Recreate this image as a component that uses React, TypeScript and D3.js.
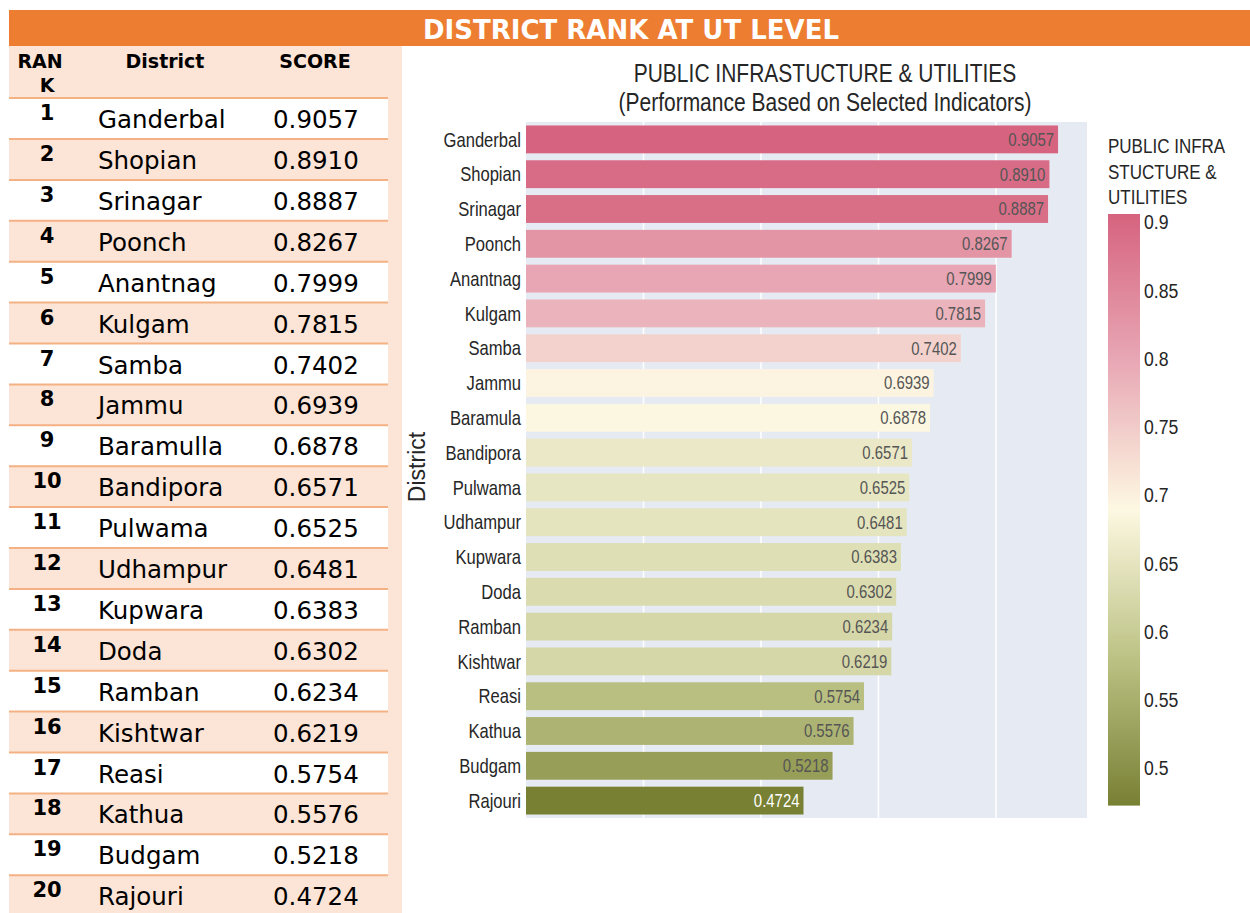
import React from 'react';
import * as d3 from 'd3';

// table + chart data
const ranks = ['1', '2', '3', '4', '5', '6', '7', '8', '9', '10', '11', '12', '13', '14', '15', '16', '17', '18', '19', '20'];
const districts = ['Ganderbal', 'Shopian', 'Srinagar', 'Poonch', 'Anantnag', 'Kulgam', 'Samba', 'Jammu', 'Baramulla', 'Bandipora',
  'Pulwama', 'Udhampur', 'Kupwara', 'Doda', 'Ramban', 'Kishtwar', 'Reasi', 'Kathua', 'Budgam', 'Rajouri'];
const chartLabels = ['Ganderbal', 'Shopian', 'Srinagar', 'Poonch', 'Anantnag', 'Kulgam', 'Samba', 'Jammu', 'Baramula', 'Bandipora',
  'Pulwama', 'Udhampur', 'Kupwara', 'Doda', 'Ramban', 'Kishtwar', 'Reasi', 'Kathua', 'Budgam', 'Rajouri'];
const scores = [0.9057, 0.8910, 0.8887, 0.8267, 0.7999, 0.7815, 0.7402, 0.6939, 0.6878, 0.6571,
  0.6525, 0.6481, 0.6383, 0.6302, 0.6234, 0.6219, 0.5754, 0.5576, 0.5218, 0.4724];
const gridTicks = [0.2, 0.4, 0.6, 0.8];
const colorTicks = [0.5, 0.55, 0.6, 0.65, 0.7, 0.75, 0.8, 0.85, 0.9];
const colorStops = ['#788034', '#BCC284', '#FDF8E2', '#E8A8B5', '#D6637F'];

const W = 1250;
const H = 913;
const ORANGE = '#ED7D31';
const PEACH = '#FCE4D6';
const LINE = '#F4B183';
const TFONT = '"DejaVu Sans", Verdana, sans-serif';
const CFONT = '"Liberation Sans", Arial, sans-serif';
const SX = 0.83; // chart text in the picture is horizontally condensed

// plot area
const px0 = 526, px1 = 1087, py0 = 122, py1 = 818;
// table rows
const rowTop = 98.1, rowH = 40.9;

function CText({ x, y, size, anchor = 'start', fill = '#262626', sx = SX, children, dy }: any) {
  return (
    <text transform={`translate(${x},${y}) scale(${sx},1)`} textAnchor={anchor} fontSize={size}
      fontFamily={CFONT} fill={fill} dy={dy}>{children}</text>
  );
}

export default function App() {
  const x = d3.scaleLinear().domain([0, 0.955]).range([px0, px1]);
  const y = d3.scaleBand<string>().domain(chartLabels).range([py0, py1]).paddingInner(0.2).paddingOuter(0.1);

  const min = d3.min(scores) as number;
  const max = d3.max(scores) as number;
  const color = d3.scaleLinear<string>()
    .domain(colorStops.map((_, i) => min + (i * (max - min)) / (colorStops.length - 1)))
    .range(colorStops)
    .interpolate(d3.interpolateRgb);

  // colorbar
  const cbX = 1108, cbW = 32;
  const cy = d3.scaleLinear().domain([min, max]).range([805.6, 214]);
  const gradStops = d3.range(0, 1.0001, 0.05);

  return (
    <svg width={W} height={H} style={{ position: 'absolute', left: 0, top: 0, background: '#fff' }}>
      <defs>
        <linearGradient id="cbar" x1="0" y1="1" x2="0" y2="0">
          {gradStops.map((t, i) => (
            <stop key={i} offset={t} stopColor={color(min + t * (max - min))} />
          ))}
        </linearGradient>
      </defs>

      {/* header band */}
      <rect x={9} y={10} width={W - 9} height={36} fill={ORANGE} />
      <text x={631} y={39} textAnchor="middle" fontFamily={TFONT} fontWeight="bold" fontSize={26} fill="#fff">
        DISTRICT RANK AT UT LEVEL
      </text>

      {/* table */}
      <rect x={9} y={46} width={393} height={H - 46} fill={PEACH} />
      <g fontFamily={TFONT} fill="#000">
        <text x={40} y={68} textAnchor="middle" fontWeight="bold" fontSize={19}>RAN</text>
        <text x={47} y={92} textAnchor="middle" fontWeight="bold" fontSize={19}>K</text>
        <text x={165} y={68} textAnchor="middle" fontWeight="bold" fontSize={19}>District</text>
        <text x={315} y={68} textAnchor="middle" fontWeight="bold" fontSize={19}>SCORE</text>
        {districts.map((d, i) => {
          const top = rowTop + i * rowH;
          return (
            <g key={d}>
              {i % 2 === 0 && <rect x={9} y={top} width={379} height={rowH} fill="#fff" />}
              <line x1={9} x2={388} y1={top} y2={top} stroke={LINE} strokeWidth={2} />
              <text x={47} y={top + 22} textAnchor="middle" fontWeight="bold" fontSize={21}>{ranks[i]}</text>
              <text x={98} y={top + 30} fontSize={24.5}>{d}</text>
              <text x={273} y={top + 30} fontSize={24.5}>{scores[i].toFixed(4)}</text>
            </g>
          );
        })}
      </g>

      {/* chart titles */}
      <CText x={825} y={82} size={25} anchor="middle" sx={0.84}>PUBLIC INFRASTUCTURE &amp; UTILITIES</CText>
      <CText x={825} y={111} size={25} anchor="middle" sx={0.84}>(Performance Based on Selected Indicators)</CText>

      {/* plot background + grid */}
      <rect x={px0} y={py0} width={px1 - px0} height={py1 - py0} fill="#E6EAF2" />
      {gridTicks.map(t => (
        <line key={t} x1={x(t)} x2={x(t)} y1={py0} y2={py1} stroke="#fff" strokeWidth={1.5} />
      ))}

      {/* bars */}
      {chartLabels.map((d, i) => {
        const v = scores[i];
        const by = y(d) as number;
        const bh = y.bandwidth();
        return (
          <g key={d}>
            <rect x={x(0)} y={by} width={x(v) - x(0)} height={bh} fill={color(v)} />
            <CText x={x(v) - 4} y={by + bh / 2} dy="0.36em" size={18} anchor="end"
              fill={i === chartLabels.length - 1 ? '#fff' : '#555'}>{v.toFixed(4)}</CText>
            <CText x={521} y={by + bh / 2} dy="0.36em" size={20} anchor="end" fill="#262626">{d}</CText>
          </g>
        );
      })}

      {/* y axis label */}
      <text transform="translate(425,467) rotate(-90)" textAnchor="middle" fontSize={23}
        fontFamily={CFONT} fill="#262626">District</text>

      {/* colorbar legend */}
      <CText x={1108} y={153} size={20.5}>PUBLIC INFRA</CText>
      <CText x={1108} y={179} size={20.5}>STUCTURE &amp;</CText>
      <CText x={1108} y={204} size={20.5}>UTILITIES</CText>
      <rect x={cbX} y={cy(max)} width={cbW} height={cy(min) - cy(max)} fill="url(#cbar)" />
      {colorTicks.map(t => (
        <CText key={t} x={cbX + cbW + 4} y={cy(t)} dy="0.36em" size={21} sx={0.84}>{String(t)}</CText>
      ))}
    </svg>
  );
}
